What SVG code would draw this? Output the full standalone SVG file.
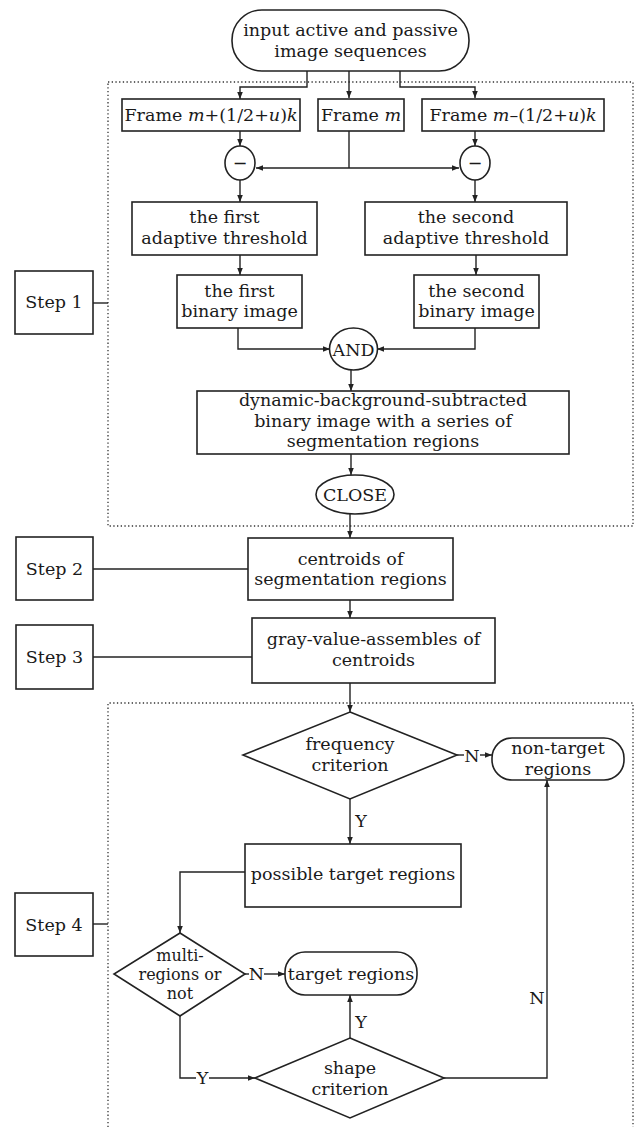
<svg xmlns="http://www.w3.org/2000/svg" width="637" height="1127" viewBox="0 0 637 1127">
<defs>
<marker id="ah" viewBox="0 0 10 10" refX="10" refY="5" markerWidth="7" markerHeight="7" markerUnits="userSpaceOnUse" orient="auto-start-reverse">
<path d="M0,1 L10,5 L0,9 z" fill="#222"/>
</marker>
<style>
.b{fill:#fff;stroke:#222;stroke-width:1.6}
.t{font-family:"DejaVu Serif","Liberation Serif",serif;font-size:17.5px;fill:#1a1a1a;text-anchor:middle}
.s{font-size:17.5px}
.c{fill:none;stroke:#222;stroke-width:1.4}
.a{marker-end:url(#ah)}
.d{fill:none;stroke:#333;stroke-width:1.3;stroke-dasharray:1.3 2.4}
.i{font-style:italic}
</style>
</defs>
<rect width="637" height="1127" fill="#fff"/>

<g id="dotted">
<rect class="d" x="108" y="82" width="525" height="444"/>
<path class="d" d="M108,1127 V703 H633 V1127"/>
</g>

<g id="connectors">
<path class="c a" d="M307,71 V87 H240 V99"/>
<path class="c a" d="M349,71 V98"/>
<path class="c a" d="M400,71 V87 H475 V98"/>
<path class="c a" d="M240,131 V146"/>
<path class="c a" d="M475,131 V146"/>
<path class="c" d="M349,131 V168"/>
<path class="c a" d="M349,168 H256" />
<path class="c a" d="M349,168 H459" />
<path class="c a" d="M240,180 V202"/>
<path class="c a" d="M475,180 V202"/>
<path class="c a" d="M240,255 V275"/>
<path class="c a" d="M476,255 V275"/>
<path class="c a" d="M238,328 V349 H330"/>
<path class="c a" d="M475,328 V349 H377"/>
<path class="c a" d="M351,370 V391"/>
<path class="c a" d="M351,454 V475"/>
<path class="c a" d="M350,514 V538"/>
<path class="c a" d="M350,600 V618"/>
<path class="c a" d="M350,683 V712"/>
<path class="c" d="M93,303 H108"/>
<path class="c" d="M93,569 H248"/>
<path class="c" d="M93,657 H252"/>
<path class="c" d="M93,924 H108"/>
<path class="c" d="M457,755 H464"/>
<path class="c a" d="M480,755 H492"/>
<path class="c a" d="M350,799 V844"/>
<path class="c a" d="M245,872 H180 V933"/>
<path class="c" d="M245,974 H249"/>
<path class="c a" d="M264,974 H285"/>
<path class="c a" d="M350,1038 V995"/>
<path class="c" d="M180,1016 V1078 H196"/>
<path class="c a" d="M209,1078 H255"/>
<path class="c a" d="M444,1078 H547 V780"/>
<text class="t" x="472" y="761.5">N</text>
<text class="t" x="361" y="827">Y</text>
<text class="t" x="256.5" y="980">N</text>
<text class="t" x="202.5" y="1084">Y</text>
<text class="t" x="361" y="1028">Y</text>
<text class="t" x="537" y="1004">N</text>
</g>

<g id="start">
<rect class="b" x="232" y="10" width="237" height="61" rx="30" ry="30"/>
<text class="t" x="350.5" y="36">input active and passive</text>
<text class="t" x="350.5" y="57">image sequences</text>
</g>

<g id="frame-plus">
<rect class="b" x="122" y="99" width="178" height="32"/>
<text class="t" x="211" y="121">Frame <tspan class="i">m</tspan>+(1/2+<tspan class="i">u</tspan>)<tspan class="i">k</tspan></text>
</g>
<g id="frame-m">
<rect class="b" x="318" y="99" width="86" height="32"/>
<text class="t" x="361" y="121">Frame <tspan class="i">m</tspan></text>
</g>
<g id="frame-minus">
<rect class="b" x="422" y="99" width="182" height="32"/>
<text class="t" x="513" y="121">Frame <tspan class="i">m</tspan>–(1/2+<tspan class="i">u</tspan>)<tspan class="i">k</tspan></text>
</g>

<g id="sub1">
<ellipse class="b" cx="240" cy="163" rx="15" ry="17"/>
<text class="t" x="240" y="169">−</text>
</g>
<g id="sub2">
<ellipse class="b" cx="475" cy="163" rx="15" ry="17"/>
<text class="t" x="475" y="169">−</text>
</g>

<g id="thr1">
<rect class="b" x="132" y="202" width="185" height="53"/>
<text class="t" x="224.5" y="223">the first</text>
<text class="t" x="224.5" y="243.5">adaptive threshold</text>
</g>
<g id="thr2">
<rect class="b" x="365" y="202" width="202" height="53"/>
<text class="t" x="466" y="223">the second</text>
<text class="t" x="466" y="243.5">adaptive threshold</text>
</g>

<g id="bin1">
<rect class="b" x="177" y="275" width="125" height="53"/>
<text class="t" x="239.5" y="296.5">the first</text>
<text class="t" x="239.5" y="317">binary image</text>
</g>
<g id="bin2">
<rect class="b" x="414" y="275" width="125" height="53"/>
<text class="t" x="476.5" y="296.5">the second</text>
<text class="t" x="476.5" y="317">binary image</text>
</g>

<g id="and">
<ellipse class="b" cx="353.5" cy="349" rx="24" ry="21"/>
<text class="t s" x="353.5" y="355.5">AND</text>
</g>

<g id="dynamic">
<rect class="b" x="197" y="391" width="372" height="63"/>
<text class="t" x="383" y="406">dynamic-background-subtracted</text>
<text class="t" x="383" y="426.5">binary image with a series of</text>
<text class="t" x="383" y="447">segmentation regions</text>
</g>

<g id="close">
<ellipse class="b" cx="355" cy="494.5" rx="39" ry="19.5"/>
<text class="t s" x="355" y="501">CLOSE</text>
</g>

<g id="step1">
<rect class="b" x="15" y="271" width="78" height="63"/>
<text class="t" x="54" y="308">Step 1</text>
</g>
<g id="step2">
<rect class="b" x="16" y="537" width="77" height="63"/>
<text class="t" x="54.5" y="574.5">Step 2</text>
</g>
<g id="step3">
<rect class="b" x="16" y="625" width="77" height="64"/>
<text class="t" x="54.5" y="663">Step 3</text>
</g>
<g id="step4">
<rect class="b" x="15" y="893" width="78" height="63"/>
<text class="t" x="54" y="930.5">Step 4</text>
</g>

<g id="centroids">
<rect class="b" x="248" y="538" width="205" height="62"/>
<text class="t" x="350.5" y="564.5">centroids of</text>
<text class="t" x="350.5" y="585">segmentation regions</text>
</g>

<g id="gray">
<rect class="b" x="252" y="618" width="243" height="65"/>
<text class="t" x="373.5" y="645">gray-value-assembles of</text>
<text class="t" x="373.5" y="665.5">centroids</text>
</g>

<g id="frequency">
<polygon class="b" points="350,712 457,755 350,799 243,755"/>
<text class="t" x="350" y="750">frequency</text>
<text class="t" x="350" y="770.5">criterion</text>
</g>

<g id="nontarget">
<rect class="b" x="492" y="738" width="132" height="42" rx="20" ry="20"/>
<text class="t" x="558" y="754">non-target</text>
<text class="t" x="558" y="774.5">regions</text>
</g>

<g id="possible">
<rect class="b" x="245" y="844" width="216" height="63"/>
<text class="t" x="353" y="880">possible target regions</text>
</g>

<g id="multi">
<polygon class="b" points="180,933 245,974 180,1016 114,974"/>
<text class="t" x="180" y="961" style="font-size:16px">multi-</text>
<text class="t" x="180" y="980" style="font-size:16px">regions or</text>
<text class="t" x="180" y="999" style="font-size:16px">not</text>
</g>

<g id="target">
<rect class="b" x="285" y="952" width="132" height="43" rx="20" ry="20"/>
<text class="t" x="351" y="979.5">target regions</text>
</g>

<g id="shape">
<polygon class="b" points="350,1038 444,1078 350,1118 255,1078"/>
<text class="t" x="350" y="1074">shape</text>
<text class="t" x="350" y="1094.5">criterion</text>
</g>
</svg>
